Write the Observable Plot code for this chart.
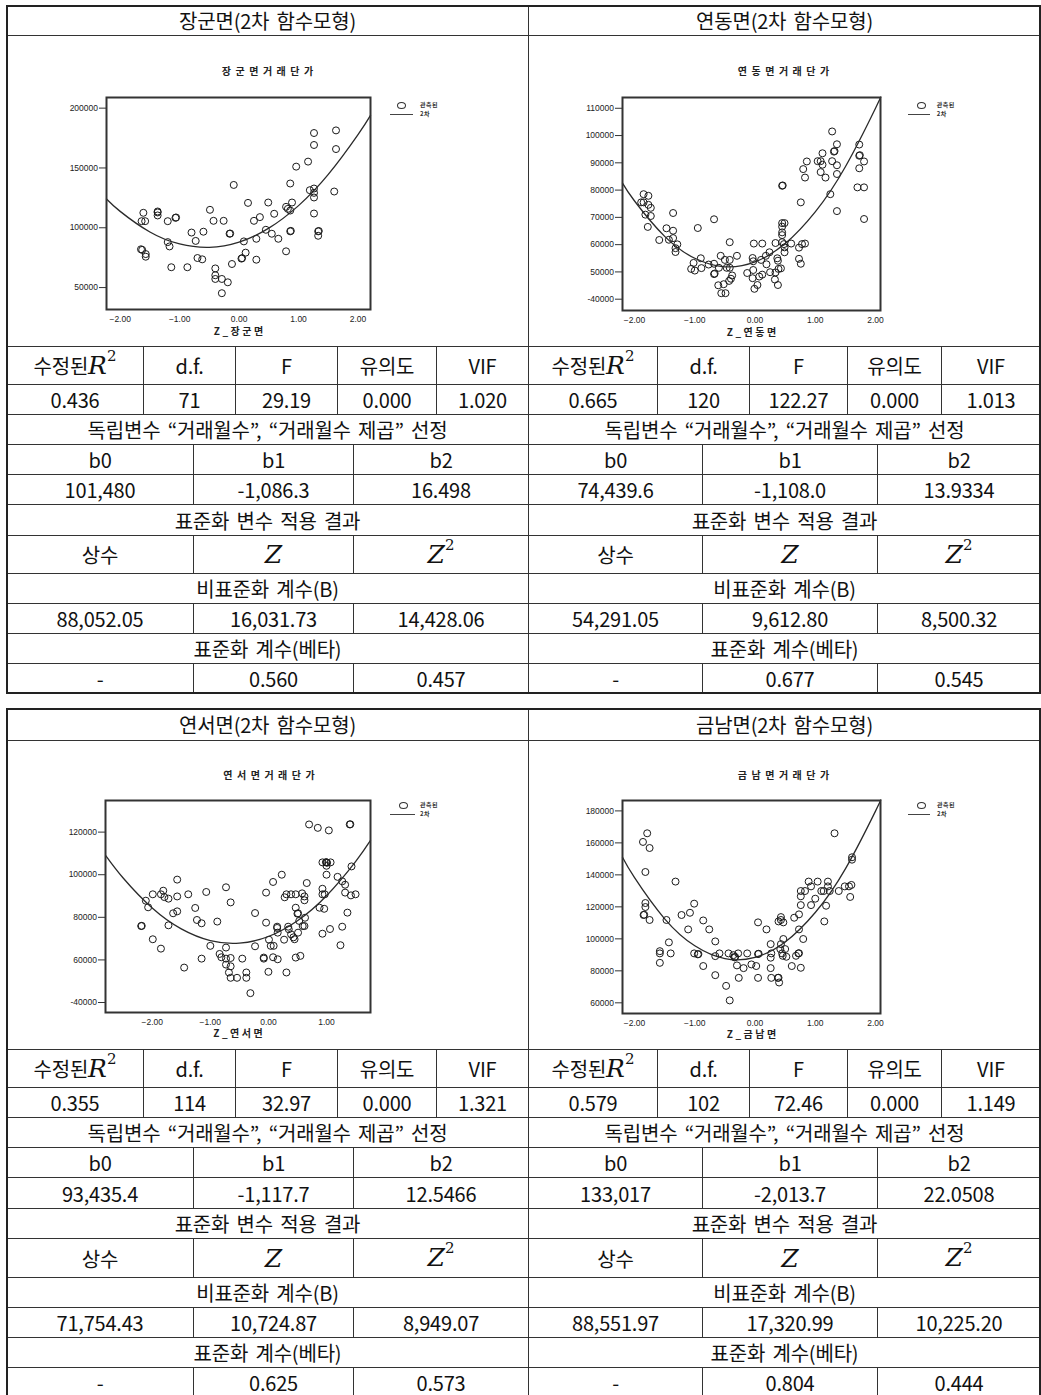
<!DOCTYPE html>
<html><head><meta charset="utf-8">
<script src="https://cdn.jsdelivr.net/npm/d3@7"></script>
<script src="https://cdn.jsdelivr.net/npm/@observablehq/plot@0.6"></script>
<style>
html,body{margin:0;padding:0;background:#fff;}
#page{position:relative;width:1041px;height:1395px;overflow:hidden;background:#fff;}
.cell{position:absolute;box-sizing:border-box;border:1px solid #333;display:flex;align-items:center;justify-content:center;
 font-family:"Noto Sans CJK KR","Noto Sans",sans-serif;font-size:20px;color:#111;white-space:nowrap;word-spacing:3px;letter-spacing:-0.2px;}
.outer{position:absolute;box-sizing:border-box;border:2px solid #222;pointer-events:none;}
.m{font-family:"DejaVu Serif","Liberation Serif",serif;font-style:italic;font-size:25px;letter-spacing:0;line-height:1;}
.m sup{font-style:normal;font-size:15px;position:relative;top:-4px;}
.lg-c{position:absolute;box-sizing:border-box;width:9px;height:7px;border:1px solid #333;border-radius:50%;}
.lg-l{position:absolute;height:1px;background:#444;}
.lg-t{position:absolute;font-family:"Noto Sans CJK KR",sans-serif;font-size:6px;color:#333;line-height:6px;font-weight:bold;letter-spacing:0.5px;}
</style>
</head><body><div id="page"></div>
<script>
// ---------------- table data ----------------
const regions = ["장군면","연동면","연서면","금남면"];
const adjR2 = ["0.436","0.665","0.355","0.579"];
const dfs = ["71","120","114","102"];
const fVals = ["29.19","122.27","32.97","72.46"];
const sigs = ["0.000","0.000","0.000","0.000"];
const vifs = ["1.020","1.013","1.321","1.149"];
const b0s = ["101,480","74,439.6","93,435.4","133,017"];
const b1s = ["-1,086.3","-1,108.0","-1,117.7","-2,013.7"];
const b2s = ["16.498","13.9334","12.5466","22.0508"];
const bConst = ["88,052.05","54,291.05","71,754.43","88,551.97"];
const bZ = ["16,031.73","9,612.80","10,724.87","17,320.99"];
const bZ2 = ["14,428.06","8,500.32","8,949.07","10,225.20"];
const betaZ = ["0.560","0.677","0.625","0.804"];
const betaZ2 = ["0.457","0.545","0.573","0.444"];

// ---------------- chart data: observed points [Z, price] ----------------
const obs1 = [[-1.65,82000],[-1.63,81500],[-1.57,78000],[-1.57,75800],[-1.61,112500],[-1.64,105500],[-1.58,105500],[-1.37,113600],[-1.37,112800],[-1.37,110300],[-1.20,105500],[-1.07,108300],[-1.06,108600],[-1.20,88000],[-1.17,84400],[-1.14,67000],[-0.87,67000],[-0.80,96000],[-0.73,89000],[-0.70,74700],[-0.62,73600],[-0.60,96700],[-0.49,115000],[-0.43,105800],[-0.40,66000],[-0.40,60300],[-0.40,57200],[-0.29,57200],[-0.19,54400],[-0.29,45300],[-0.26,105800],[-0.16,95000],[-0.15,95200],[-0.12,69700],[-0.09,135800],[0.04,74200],[0.05,74600],[0.08,88600],[0.11,79200],[0.15,120800],[0.25,105800],[0.29,90800],[0.29,73300],[0.35,108900],[0.45,98300],[0.49,121100],[0.55,95000],[0.59,111700],[0.66,90800],[0.79,80300],[0.79,117500],[0.82,115800],[0.86,114400],[0.86,137000],[0.86,97000],[0.87,97400],[0.89,121100],[0.96,151100],[1.16,155300],[1.19,131400],[1.26,179200],[1.26,169200],[1.26,132800],[1.26,129200],[1.26,125300],[1.26,111900],[1.33,97000],[1.34,97300],[1.33,93300],[1.60,130300],[1.63,181400],[1.63,165800]];
const obs2 = [[-1.85,78500],[-1.89,75500],[-1.85,75500],[-1.77,77900],[-1.77,74600],[-1.73,73500],[-1.82,71000],[-1.73,70500],[-1.78,66500],[-1.59,61700],[-1.47,66000],[-1.36,65100],[-1.36,71600],[-1.43,61800],[-1.36,62400],[-1.32,58700],[-1.32,57300],[-1.29,60100],[-0.95,66100],[-0.68,69300],[-1.02,53300],[-1.06,51100],[-1.00,50500],[-0.90,55000],[-0.89,51400],[-0.77,52700],[-0.68,53000],[-0.68,49200],[-0.67,49400],[-0.60,51500],[-0.61,45100],[-0.57,55900],[-0.56,42200],[-0.52,45500],[-0.49,42200],[-0.50,54400],[-0.47,51500],[-0.42,51500],[-0.42,60900],[-0.42,54400],[-0.43,46700],[-0.40,47500],[-0.38,48700],[-0.30,55900],[-0.13,49600],[-0.04,55100],[-0.03,53900],[-0.03,50700],[-0.02,60400],[-0.04,47700],[-0.01,43800],[0.04,45200],[0.07,48300],[0.12,49000],[0.12,60400],[0.10,54400],[0.19,52800],[0.18,55900],[0.24,57200],[0.25,49900],[0.33,47200],[0.34,49800],[0.38,45200],[0.34,60600],[0.37,55000],[0.38,54100],[0.39,51100],[0.43,51300],[0.45,60900],[0.45,81600],[0.46,81700],[0.45,67900],[0.49,67900],[0.45,66600],[0.45,64500],[0.45,63500],[0.48,60200],[0.49,59000],[0.49,57200],[0.60,60400],[0.73,58900],[0.78,60200],[0.83,60400],[0.73,54800],[0.76,53000],[0.76,75500],[0.80,87700],[0.83,84600],[0.86,90500],[1.04,90600],[1.09,90600],[1.09,86600],[1.12,93500],[1.12,89300],[1.17,84600],[1.25,78500],[1.28,101500],[1.28,90600],[1.31,94100],[1.32,94300],[1.36,89100],[1.36,96800],[1.36,85900],[1.36,72300],[1.70,81000],[1.73,96700],[1.73,92600],[1.74,92800],[1.73,88000],[1.81,81000],[1.81,90500],[1.81,69400]];
const obs3 = [[-2.19,75900],[-2.18,76000],[-2.11,87800],[-2.07,84700],[-1.99,69700],[-1.99,90800],[-1.85,90800],[-1.81,92500],[-1.79,89500],[-1.72,88750],[-1.85,65300],[-1.72,76250],[-1.64,81900],[-1.57,82800],[-1.57,97700],[-1.57,89800],[-1.45,56400],[-1.38,90800],[-1.26,84400],[-1.23,78750],[-1.15,77200],[-1.15,60600],[-1.07,91900],[-1.00,66600],[-0.88,78000],[-0.84,62800],[-0.81,61250],[-0.73,94100],[-0.73,65800],[-0.73,60600],[-0.73,57800],[-0.68,54100],[-0.65,60900],[-0.65,57000],[-0.65,87000],[-0.65,51600],[-0.54,51600],[-0.45,60600],[-0.38,54100],[-0.38,51600],[-0.31,44400],[-0.23,66400],[-0.23,82000],[-0.08,61100],[-0.08,60600],[-0.04,77500],[-0.04,91600],[0.00,54400],[0.01,69500],[0.04,66600],[0.09,66600],[0.08,96600],[0.08,61250],[0.15,75600],[0.15,75000],[0.16,72800],[0.16,60300],[0.23,100000],[0.27,69500],[0.28,89400],[0.31,90800],[0.31,54100],[0.34,75600],[0.35,74400],[0.39,90800],[0.39,72000],[0.43,70600],[0.45,69700],[0.47,84500],[0.47,90800],[0.47,61100],[0.50,81700],[0.51,81900],[0.51,72800],[0.53,78300],[0.55,61900],[0.58,91250],[0.59,75900],[0.62,75900],[0.62,88000],[0.62,89800],[0.63,79800],[0.66,96100],[0.70,123600],[0.85,122000],[0.93,93400],[0.93,90800],[0.93,105800],[0.93,72300],[0.88,84500],[0.96,84000],[0.97,90800],[1.00,105800],[1.01,105600],[0.99,105900],[1.00,104200],[1.00,100000],[1.04,120800],[1.06,74500],[1.07,105800],[1.19,99000],[1.24,66900],[1.27,75600],[1.27,96900],[1.32,95300],[1.32,91600],[1.36,82200],[1.40,123600],[1.41,123700],[1.43,103900],[1.42,90300],[1.50,90800]];
const obs4 = [[-1.86,160600],[-1.79,166000],[-1.75,156800],[-1.82,141800],[-1.82,122400],[-1.82,119900],[-1.85,114900],[-1.84,115100],[-1.75,111800],[-1.58,92300],[-1.58,90900],[-1.58,85000],[-1.47,111800],[-1.43,97800],[-1.40,90900],[-1.32,135800],[-1.22,114900],[-1.11,105900],[-1.08,116300],[-1.01,122000],[-1.01,90900],[-0.95,90300],[-0.94,90500],[-0.86,111500],[-0.86,83000],[-0.76,105900],[-0.66,98400],[-0.66,77300],[-0.66,89200],[-0.59,90900],[-0.48,70600],[-0.42,61500],[-0.44,90900],[-0.36,89800],[-0.34,88400],[-0.33,88700],[-0.30,83400],[-0.28,90900],[-0.27,75600],[-0.19,81700],[-0.13,90900],[-0.06,84000],[0.02,83000],[0.05,110300],[0.05,90500],[0.06,90700],[0.05,75600],[0.19,105900],[0.26,96700],[0.26,88200],[0.26,81700],[0.27,90900],[0.27,75600],[0.38,75600],[0.39,75700],[0.39,110900],[0.40,72700],[0.42,93600],[0.43,96700],[0.43,113600],[0.43,111800],[0.45,90900],[0.46,89400],[0.47,110300],[0.47,99900],[0.50,93600],[0.52,88800],[0.61,83000],[0.65,113200],[0.68,89400],[0.72,90900],[0.73,91000],[0.73,115300],[0.73,105900],[0.76,129900],[0.76,126600],[0.76,121100],[0.76,81900],[0.80,99900],[0.83,129900],[0.89,135800],[0.93,132800],[0.93,121100],[1.00,125100],[1.04,135800],[1.10,129900],[1.14,129900],[1.15,110900],[1.18,120700],[1.21,135800],[1.21,132800],[1.24,129900],[1.32,166000],[1.39,129900],[1.49,132800],[1.56,132800],[1.58,126200],[1.60,133700],[1.61,151000],[1.61,149500]];

// ---------------- quadratic fit curves [Z, price] ----------------
const fit1 = [[-2.23,124051],[-2,113700],[-1.5,96467],[-1,86448],[-0.5,83643],[0,88052],[0.5,99675],[1,118512],[1.5,144563],[2,177828],[2.21,193950]];
const fit2 = [[-2.2,82560],[-2,76000],[-1.5,63040],[-1,54998],[-0.5,51873],[0,53666],[0.5,60377],[1,72004],[1.5,88550],[2,110012],[2.08,113900]];
const fit3 = [[-2.8,109000],[-2.5,98471],[-2,84366],[-1.5,74566],[-1,69072],[-0.5,67883],[0,71000],[0.5,78423],[1,90150],[1.5,106184],[1.757,116100]];
const fit4 = [[-2.2,150990],[-2,138234],[-1.5,112527],[-1,95653],[-0.5,87610],[0,88400],[0.5,98022],[1,116475],[1.5,143761],[2,179878],[2.08,186470]];

// ---------------- axis ticks & chart texts ----------------
const xTicksA = [-2,-1,0,1,2];
const xTicksB = [-2,-1,0,1];
const yTicks1 = [50000,100000,150000,200000];
const yTicks2 = [40000,50000,60000,70000,80000,90000,100000,110000];
const yTicks3 = [40000,60000,80000,100000,120000];
const yTicks4 = [60000,80000,100000,120000,140000,160000,180000];
const chartTitles = ["장군면거래단가","연동면거래단가","연서면거래단가","금남면거래단가"];
const xLabels = ["Z_장군면","Z_연동면","Z_연서면","Z_금남면"];
const legendObs = "관측된", legendFit = "2차";

// ---------------- layout ----------------
const page = document.getElementById("page");
function cell(x0,y0,x1,y1,html){
  const d=document.createElement("div");d.className="cell";
  d.style.left=x0+"px";d.style.top=y0+"px";d.style.width=(x1-x0+1)+"px";d.style.height=(y1-y0+1)+"px";
  d.innerHTML=html||"";page.appendChild(d);return d;
}
function box(cls,x,y,w,h){const d=document.createElement("div");d.className=cls;d.style.left=x+"px";d.style.top=y+"px";if(w!=null)d.style.width=w+"px";if(h!=null)d.style.height=h+"px";page.appendChild(d);return d;}

const rowsY = [[5,35,346,384,414,444,474,504,535,573,603,633,663,693],[708,740,1049,1087,1117,1147,1177,1208,1238,1277,1307,1337,1367,1396]];
const fiveX = [[6,143,235,337,436,528],[528,657,749,847,941,1040]];
const threeX = [[6,193,353,528],[528,702,877,1040]];
const fullX = [[6,528],[528,1040]];
const R2html = '수정된<span class="m">R<sup>2</sup></span>';
const Zhtml = '<span class="m">Z</span>', Z2html = '<span class="m">Z<sup>2</sup></span>';

for (let t=0;t<2;t++) for (let s=0;s<2;s++){
  const i=t*2+s, Y=rowsY[t], F=fiveX[s], T=threeX[s], W=fullX[s];
  const full=(r,h)=>cell(W[0],Y[r],W[1],Y[r+1],h);
  const five=(r,arr)=>arr.forEach((h,k)=>cell(F[k],Y[r],F[k+1],Y[r+1],h));
  const three=(r,arr)=>arr.forEach((h,k)=>cell(T[k],Y[r],T[k+1],Y[r+1],h));
  full(0, regions[i]+"(2차 함수모형)");
  full(1, "");
  five(2,[R2html,"d.f.","F","유의도","VIF"]);
  five(3,[adjR2[i],dfs[i],fVals[i],sigs[i],vifs[i]]);
  full(4,"독립변수 “거래월수”, “거래월수 제곱” 선정");
  three(5,["b0","b1","b2"]);
  three(6,[b0s[i],b1s[i],b2s[i]]);
  full(7,"표준화 변수 적용 결과");
  three(8,["상수",Zhtml,Z2html]);
  full(9,"비표준화 계수(B)");
  three(10,[bConst[i],bZ[i],bZ2[i]]);
  full(11,"표준화 계수(베타)");
  three(12,["-",betaZ[i],betaZ2[i]]);
}
box("outer",6,5,1035,689);
box("outer",6,708,1035,690);

// ---------------- charts ----------------
const charts = [
 {obs:obs1,fit:fit1,xt:xTicksA,yt:yTicks1,xd:[-2.23,2.21],yd:[31667,208900],left:7,top:36,w:520,h:309,mL:99,mR:157,mT:61,mB:36,tdx:29,tdy:-25.7,ldy:22.5,
  lg:{cx:401.7,cy:105,lx0:390,lx1:413,ly:113.8,tx:420}},
 {obs:obs2,fit:fit2,xt:xTicksA,yt:yTicks2,xd:[-2.2,2.083],yd:[35854,113950],left:529,top:36,w:510,h:309,mL:93,mR:159,mT:61,mB:35,tdx:32,tdy:-25.7,ldy:22.5,
  lg:{cx:921.7,cy:105,lx0:908,lx1:930,ly:114,tx:936.7}},
 {obs:obs3,fit:fit3,xt:xTicksB,yt:yTicks3,xd:[-2.804,1.757],yd:[35312,134844],left:7,top:741,w:520,h:307,mL:98,mR:157,mT:59,mB:36,tdx:31,tdy:-25,ldy:21.5,
  lg:{cx:403.3,cy:805,lx0:390,lx1:415,ly:814.3,tx:420}},
 {obs:obs4,fit:fit4,xt:xTicksA,yt:yTicks4,xd:[-2.2,2.083],yd:[53322,186500],left:529,top:741,w:510,h:307,mL:93,mR:159,mT:59,mB:35,tdx:32,tdy:-25,ldy:21.5,
  lg:{cx:921.7,cy:805,lx0:908,lx1:930,ly:814,tx:937}}
];
const yfmt = d => (d===40000 ? "-" : "") + String(d);
charts.forEach((c,i)=>{
  const svg = Plot.plot({
    width:c.w,height:c.h,marginLeft:c.mL,marginRight:c.mR,marginTop:c.mT,marginBottom:c.mB,
    x:{domain:c.xd},y:{domain:c.yd},
    style:{background:"transparent",fontFamily:"Liberation Sans, Arial, sans-serif",fontSize:"8.5px",color:"#222",overflow:"visible"},
    marks:[
      Plot.axisY(c.yt,{tickSize:7,tickPadding:1.5,tickFormat:yfmt,label:null,stroke:"#333"}),
      Plot.axisX(c.xt,{tickSize:0,tickPadding:6.5,tickFormat:d3.format(".2f"),label:null}),
      Plot.dot(c.obs,{x:d=>d[0],y:d=>d[1],r:3.5,stroke:"#1a1a1a",strokeWidth:1,fill:"none"}),
      Plot.line(c.fit,{x:d=>d[0],y:d=>d[1],curve:"natural",stroke:"#2a2a2a",strokeWidth:1.3}),
      Plot.frame({stroke:"#333",strokeWidth:2}),
      Plot.text([chartTitles[i]],{text:d=>d,frameAnchor:"top",lineAnchor:"middle",dx:c.tdx,dy:c.tdy,fontWeight:"bold",fontSize:10,fontFamily:"Noto Sans CJK KR",fill:"#222"}),
      Plot.text([xLabels[i]],{text:d=>d,frameAnchor:"bottom",lineAnchor:"middle",dy:c.ldy,fontWeight:"bold",fontSize:10,fontFamily:"Noto Sans CJK KR",fill:"#222"})
    ]
  });
  svg.querySelectorAll("text").forEach(t=>{
    if (t.textContent===chartTitles[i]) { t.setAttribute("letter-spacing","4.5"); t.setAttribute("dx","2.25"); }
    if (t.textContent===xLabels[i]) { t.setAttribute("letter-spacing","2.5"); t.setAttribute("dx","1.25"); }
  });
  svg.style.position="absolute";svg.style.left=c.left+"px";svg.style.top=c.top+"px";
  page.appendChild(svg);
  // legend
  const L=c.lg;
  box("lg-c",L.cx-4.5,L.cy-3.5);
  box("lg-l",L.lx0,L.ly,L.lx1-L.lx0);
  box("lg-t",L.tx,L.cy-3).textContent=legendObs;
  box("lg-t",L.tx,L.ly-3).textContent=legendFit;
});
</script>
</body></html>
